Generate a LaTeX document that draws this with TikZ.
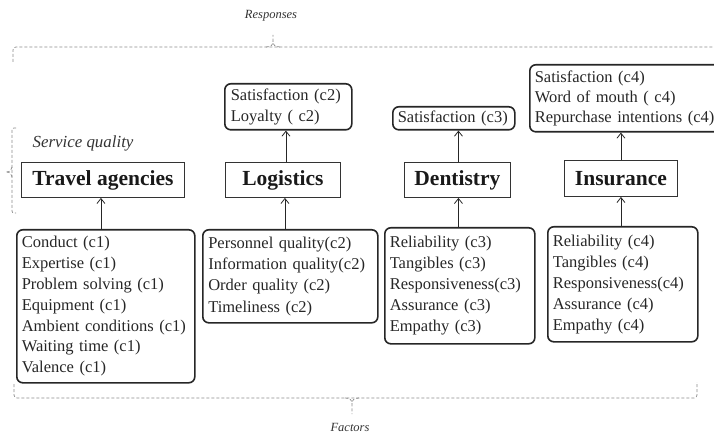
\documentclass[tikz,border=0pt]{standalone}
\usepackage{fontspec}
\setmainfont{Liberation Serif}
\usetikzlibrary{arrows.meta}
\begin{document}
\begin{tikzpicture}[x=1pt,y=-1pt,
  listbox/.style={draw=black!85, line width=1.6pt, rounded corners=6pt, align=left,
    inner xsep=5pt, inner ysep=0pt, anchor=north west,
    font=\fontsize{16.5}{21}\selectfont, text=black!85},
  sector/.style={draw=black!80, line width=0.9pt, align=center, inner sep=0pt, anchor=north west,
    font=\fontsize{21.5}{24}\selectfont\bfseries, text=black!90},
  dsh/.style={draw=black!45, dash pattern=on 3pt off 2pt, line width=0.7pt},
  arr/.style={-{Straight Barb[length=5pt,width=8pt]}, line width=0.8pt, draw=black!85},
  lbl/.style={font=\fontsize{12.5}{14}\selectfont\itshape, text=black!80}
]
\useasboundingbox (0,0) rectangle (714,435);

% sector boxes
\node[sector, minimum width=163pt, minimum height=35pt] (tsec) at (21,162) {Travel agencies};
\node[sector, minimum width=115pt, minimum height=35pt] (lsec) at (225,162) {Logistics};
\node[sector, minimum width=106pt, minimum height=35pt] (dsec) at (404,162) {Dentistry};
\node[sector, minimum width=113pt, minimum height=36pt] (isec) at (564,160) {Insurance};

% factor boxes
\node[listbox, text width=168pt, minimum height=153pt, font=\fontsize{16.5}{20.8}\selectfont] (tf) at (16,229)
  {Conduct (c1)\\Expertise (c1)\\Problem solving (c1)\\Equipment (c1)\\Ambient conditions (c1)\\Waiting time (c1)\\Valence (c1)};
\node[listbox, text width=164pt, inner xsep=5.5pt, minimum height=93pt, font=\fontsize{16.5}{21.3}\selectfont] (lf) at (202,229)
  {Personnel quality(c2)\\Information quality(c2)\\Order quality (c2)\\Timeliness (c2)};
\node[listbox, text width=140pt, minimum height=116pt] (df) at (384,227)
  {Reliability (c3)\\Tangibles (c3)\\Responsiveness(c3)\\Assurance (c3)\\Empathy (c3)};
\node[listbox, text width=140pt, minimum height=115pt] (if) at (547,226)
  {Reliability (c4)\\Tangibles (c4)\\Responsiveness(c4)\\Assurance (c4)\\Empathy (c4)};

% response boxes
\node[listbox, text width=115pt, inner xsep=6pt, minimum height=46pt] (lr) at (224,83)
  {Satisfaction (c2)\\Loyalty ( c2)};
\node[listbox, text width=112pt, minimum height=23pt] (dr) at (392,106)
  {Satisfaction (c3)};
\node[listbox, text width=200pt, minimum height=67pt, font=\fontsize{16.5}{20}\selectfont] (ir) at (529,64)
  {Satisfaction (c4)\\Word of mouth ( c4)\\Repurchase intentions (c4)};

% arrows factors -> sectors
\draw[arr] ([xshift=-2pt]tsec.south |- tf.north) -- ([xshift=-2pt]tsec.south);
\draw[arr] ([xshift=2pt]lsec.south |- lf.north) -- ([xshift=2pt]lsec.south);
\draw[arr] ([xshift=1pt]dsec.south |- df.north) -- ([xshift=1pt]dsec.south);
\draw[arr] (isec.south |- if.north) -- (isec.south);

% arrows sectors -> responses
\draw[arr] ([xshift=3pt]lsec.north) -- ([xshift=3pt]lsec.north |- lr.south);
\draw[arr] ([xshift=1pt]dsec.north) -- ([xshift=1pt]dsec.north |- dr.south);
\draw[arr] (isec.north) -- (isec.north |- ir.south);

% top brace (Responses)
\draw[dsh, rounded corners=3pt] (13,62) -- (13,47) -- (720,47);
\draw[dsh] (266,47) .. controls (271,47) and (273,45) .. (273,41) -- (273,35);
\draw[dsh] (280,47) .. controls (275,47) and (273,45) .. (273,41);
\node[lbl] (resp) at (271,16) {Responses};

% bottom brace (Factors)
\draw[dsh, rounded corners=3pt] (14,384) -- (14,398) -- (697,398) -- (697,382);
\draw[dsh] (345,398) .. controls (350,398) and (352,400) .. (352,404) -- (352,414);
\draw[dsh] (359,398) .. controls (354,398) and (352,400) .. (352,404);
\node[lbl] (fac) at (350,427) {Factors};

% left brace (Service quality)
\draw[dsh, rounded corners=2pt] (16,128) -- (12,128) -- (12,213) -- (16,213);
\draw[dsh] (12,167) .. controls (12,170) and (10,172) .. (6,172);
\draw[dsh] (12,177) .. controls (12,174) and (10,172) .. (6,172);
\node[font=\fontsize{16.9}{19}\selectfont\itshape, text=black!80] (sq) at (83,143) {Service quality};
\end{tikzpicture}
\end{document}
